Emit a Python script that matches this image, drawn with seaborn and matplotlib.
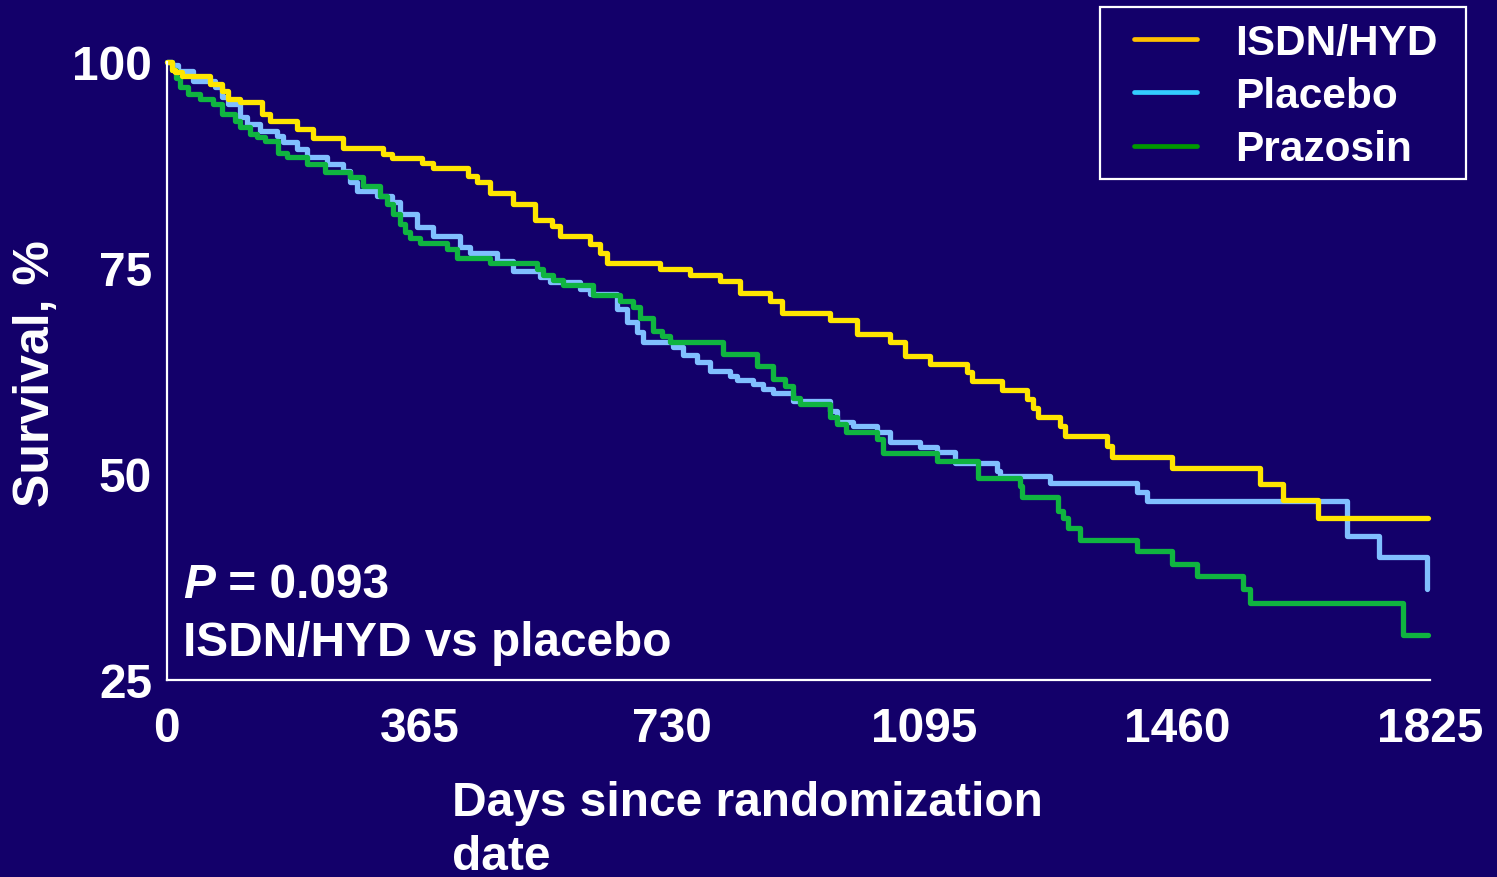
import matplotlib
matplotlib.use("Agg")
import matplotlib.pyplot as plt
from matplotlib.lines import Line2D
from matplotlib.patches import Rectangle
from matplotlib.legend_handler import HandlerLine2D
import seaborn as sns
import pandas as pd

# ---- data ----
isdn_days = [0, 8, 12, 22, 62, 80, 88, 106, 138, 149, 188, 211, 255, 312, 325, 369, 385,
             435, 448, 467, 500, 532, 556, 568, 611, 626, 636, 712, 756, 799, 828, 871, 889,
             958, 997, 1045, 1066, 1102, 1156, 1163, 1207, 1243, 1251, 1259, 1290, 1297,
             1358, 1365, 1452, 1579, 1612, 1663, 1822]
isdn_surv = [100, 99.0, 98.8, 98.3, 97.3, 96.5, 95.5, 95.1, 93.7, 92.8, 91.9, 90.8, 89.6,
             88.8, 88.3, 87.7, 87.1, 86.2, 85.4, 84.1, 82.8, 80.8, 80.1, 78.9, 77.9, 76.8,
             75.6, 74.9, 74.2, 73.4, 72.0, 71.0, 69.5, 68.7, 67.0, 66.0, 64.3, 63.3, 62.4,
             61.3, 60.2, 59.1, 58.0, 56.9, 55.8, 54.6, 53.4, 52.1, 50.7, 48.8, 46.8, 44.7, 44.7]

placebo_days = [0, 8, 16, 38, 70, 80, 88, 106, 116, 135, 159, 168, 188, 203, 232, 255, 265,
                275, 304, 325, 337, 361, 385, 424, 438, 477, 500, 539, 554, 597, 611, 650,
                665, 679, 688, 732, 746, 766, 785, 814, 824, 847, 861, 876, 905, 958, 968,
                991, 1026, 1045, 1088, 1113, 1139, 1199, 1204, 1276, 1402, 1416, 1705, 1752,
                1820]
placebo_surv = [100, 99.6, 98.9, 97.7, 97.0, 95.8, 94.9, 93.3, 92.5, 91.6, 91.0, 90.3, 89.4,
                88.5, 87.6, 86.8, 85.4, 84.3, 83.7, 83.0, 81.6, 80.0, 78.9, 77.5, 76.8, 75.8,
                74.6, 73.9, 73.3, 72.4, 71.8, 70.0, 68.4, 67.2, 66.0, 65.4, 64.4, 63.6, 62.5,
                61.9, 61.4, 60.9, 60.3, 59.8, 58.9, 57.6, 56.3, 55.8, 55.1, 53.9, 53.3, 52.7,
                51.3, 50.4, 49.8, 48.9, 47.8, 46.7, 42.5, 39.9, 36.0]

prazosin_days = [0, 8, 13, 19, 31, 48, 67, 80, 99, 106, 120, 130, 142, 161, 174, 203, 229,
                 265, 284, 308, 318, 327, 337, 344, 351, 366, 405, 419, 467, 535, 544, 558,
                 573, 616, 655, 674, 684, 703, 715, 727, 804, 853, 876, 893, 905, 915, 958,
                 968, 982, 1026, 1035, 1113, 1172, 1232, 1235, 1288, 1295, 1302, 1319, 1402,
                 1452, 1488, 1555, 1565, 1786, 1822]
prazosin_surv = [100, 99.0, 98.0, 97.0, 96.1, 95.5, 94.9, 93.7, 92.8, 92.1, 91.3, 90.9, 90.4,
                 89.0, 88.5, 87.6, 86.7, 86.0, 85.0, 83.7, 82.8, 81.6, 80.3, 79.4, 78.6, 78.0,
                 77.3, 76.2, 75.6, 74.9, 74.2, 73.5, 72.9, 71.7, 71.0, 70.3, 68.9, 67.4, 66.7,
                 66.0, 64.6, 63.1, 61.5, 60.7, 59.2, 58.5, 56.9, 56.1, 55.1, 54.2, 52.5, 51.6,
                 49.5, 48.5, 47.2, 45.5, 44.7, 43.4, 42.0, 40.7, 39.1, 37.6, 36.0, 34.3, 30.5,
                 30.5]

groups = ["ISDN/HYD", "Placebo", "Prazosin"]
x_ticks = [0, 365, 730, 1095, 1460, 1825]
y_ticks = [25, 50, 75, 100]

BG = "#13006a"
line_colors = {"ISDN/HYD": "#ffe600", "Placebo": "#80bfff", "Prazosin": "#10b440"}
legend_colors = {"ISDN/HYD": "#ffc000", "Placebo": "#33ccff", "Prazosin": "#009900"}

sns.set_theme(style="white")
plt.rcParams["font.family"] = ["Liberation Sans", "DejaVu Sans"]
plt.rcParams["font.weight"] = "bold"

W, H = 1497, 878
fig = plt.figure(figsize=(W / 100, H / 100), dpi=100, facecolor=BG)
ax = fig.add_axes([166.7 / W, (H - 681) / H, (1430 - 166.7) / W, (681 - 63) / H])
ax.set_facecolor(BG)

frames = {
    "ISDN/HYD": pd.DataFrame({"days": isdn_days, "surv": isdn_surv}),
    "Placebo": pd.DataFrame({"days": placebo_days, "surv": placebo_surv}),
    "Prazosin": pd.DataFrame({"days": prazosin_days, "surv": prazosin_surv}),
}
for name in ["Placebo", "Prazosin", "ISDN/HYD"]:
    sns.lineplot(data=frames[name], x="days", y="surv", ax=ax, color=line_colors[name],
                 drawstyle="steps-post", estimator=None, linewidth=3.8, clip_on=False,
                 legend=False)

ax.set_xlim(0, 1825)
ax.set_ylim(25, 100)
ax.set_xticks(x_ticks)
ax.set_yticks(y_ticks)
ax.set_xticklabels([str(t) for t in x_ticks])
ax.set_yticklabels([str(t) for t in y_ticks])

for s in ["top", "right"]:
    ax.spines[s].set_visible(False)
for s in ["left", "bottom"]:
    ax.spines[s].set_color("white")
    ax.spines[s].set_linewidth(1.6)

ax.tick_params(axis="both", colors="white", direction="out", length=7.5, width=1.6,
               labelsize=34.5, labelcolor="white")
ax.tick_params(axis="x", pad=11)
ax.tick_params(axis="y", pad=3)
for lab in ax.get_xticklabels() + ax.get_yticklabels():
    lab.set_fontweight("bold")

ax.set_ylabel("Survival, %", fontsize=36, fontweight="bold", color="white")
ax.yaxis.set_label_coords((59 - 166.7) / 1263.3, 0.497)
ax.set_xlabel("Days since randomization\ndate", fontsize=34.5, fontweight="bold",
              color="white", ha="left", va="top", multialignment="left", linespacing=1.27)
ax.xaxis.set_label_coords((452 - 166.7) / 1263.3, (681 - 781) / 618)

# p-value annotation
ptxt = ax.text(0.0129, 0.155, "P", transform=ax.transAxes, fontsize=34.5, fontweight="bold",
               fontstyle="italic", color="white", ha="left", va="center")
ax.annotate(" = 0.093", xy=(1, 0), xycoords=ptxt, ha="left", va="bottom", fontsize=34.5,
            fontweight="bold", color="white")
ax.text(0.0129, 0.061, "ISDN/HYD vs placebo", transform=ax.transAxes, fontsize=34.4,
        fontweight="bold", color="white", ha="left", va="center")

# legend (handles carry the legend colours shown in the reference)
fs_leg = 30.5
fs_px = fs_leg * 100 / 72
bpad = 0.38
handles = [Line2D([0], [0], color=legend_colors[g], linewidth=3.4) for g in groups]
start = 1100 + bpad * fs_px
hmap = {h: HandlerLine2D(xpad=(1134 - start) / fs_px) for h in handles}
leg = fig.legend(handles, groups, loc="upper left", bbox_to_anchor=(1100 / W, 1 - 8 / H),
                 frameon=False, fontsize=fs_leg, handlelength=(1197 - start) / fs_px,
                 handletextpad=38.0 / fs_px, labelspacing=0.31, borderpad=bpad,
                 borderaxespad=0, handler_map=hmap)
for t in leg.get_texts():
    t.set_color("white")
    t.set_fontweight("bold")
fig.patches.append(Rectangle((1100 / W, 1 - 180 / H), 366 / W, 172 / H,
                             transform=fig.transFigure, fill=False, edgecolor="white",
                             linewidth=1.6))

fig.savefig("out.png", dpi=100, facecolor=BG)
